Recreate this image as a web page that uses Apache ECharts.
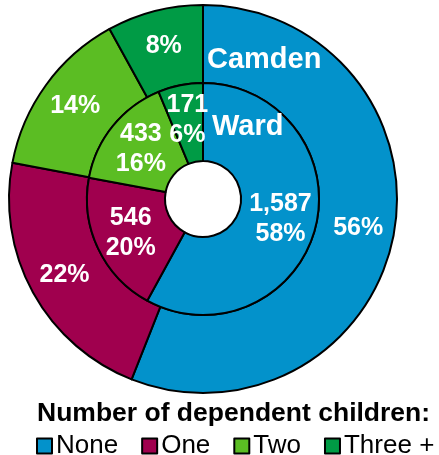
<!DOCTYPE html>
<html>
<head>
<meta charset="utf-8">
<script src="https://cdn.jsdelivr.net/npm/echarts@6/dist/echarts.min.js"></script>
<style>
html,body{margin:0;padding:0;background:#fff;}
#c{width:439px;height:455px;}
</style>
</head>
<body>
<div id="c"></div>
<script>
const categories = ['None', 'One', 'Two', 'Three +'];
const colors = ['#0392CB', '#A0004E', '#5BBD23', '#009B45'];
const wardCounts = [1587, 546, 433, 171];
const wardPct = [58, 20, 16, 6];
const camdenPct = [56, 22, 14, 8];
const legendTitle = 'Number of dependent children:';

const FONT = '"Liberation Sans", Arial, sans-serif';
const chart = echarts.init(document.getElementById('c'));

const labelStyle = {
  show: true,
  position: 'inside',
  color: '#fff',
  fontFamily: FONT,
  fontWeight: 'bold',
  fontSize: 25,
  lineHeight: 30
};

chart.setOption({
  animation: false,
  color: colors,
  legend: {
    data: categories,
    left: 36,
    top: 431,
    padding: 0,
    icon: 'rect',
    itemWidth: 15,
    itemHeight: 15,
    itemGap: 23,
    selectedMode: false,
    itemStyle: { borderColor: '#000', borderWidth: 2 },
    textStyle: { fontFamily: FONT, fontSize: 26, lineHeight: 30, color: '#000', padding: [0, 0, 0, -1] }
  },
  graphic: [
    { type: 'text', left: 37, top: 400, silent: true,
      style: { text: legendTitle, fontFamily: FONT, fontWeight: 'bold', fontSize: 26.5, fill: '#000' } },
    { type: 'text', x: 207, y: 45, silent: true, z: 100,
      style: { text: 'Camden', fontFamily: FONT, fontWeight: 'bold', fontSize: 29, fill: '#fff' } },
    { type: 'text', x: 212, y: 112, silent: true, z: 100,
      style: { text: 'Ward', fontFamily: FONT, fontWeight: 'bold', fontSize: 29, fill: '#fff' } }
  ],
  series: [
    {
      name: 'Camden',
      type: 'pie',
      center: [203, 199],
      radius: [116, 194],
      startAngle: 90,
      clockwise: true,
      silent: true,
      avoidLabelOverlap: false,
      itemStyle: { borderColor: '#000', borderWidth: 2 },
      label: Object.assign({}, labelStyle, {
        formatter: p => camdenPct[p.dataIndex] + '%'
      }),
      labelLine: { show: false },
      data: categories.map((c, i) => ({ name: c, value: camdenPct[i] }))
    },
    {
      name: 'Ward',
      type: 'pie',
      center: [203, 199],
      radius: [38, 116],
      startAngle: 90,
      clockwise: true,
      silent: true,
      avoidLabelOverlap: false,
      itemStyle: { borderColor: '#000', borderWidth: 2 },
      label: Object.assign({}, labelStyle, {
        formatter: p => wardCounts[p.dataIndex].toLocaleString('en-GB') + '\n' + wardPct[p.dataIndex] + '%'
      }),
      labelLine: { show: false },
      data: categories.map((c, i) => ({ name: c, value: wardCounts[i] }))
    }
  ]
});
</script>
</body>
</html>
